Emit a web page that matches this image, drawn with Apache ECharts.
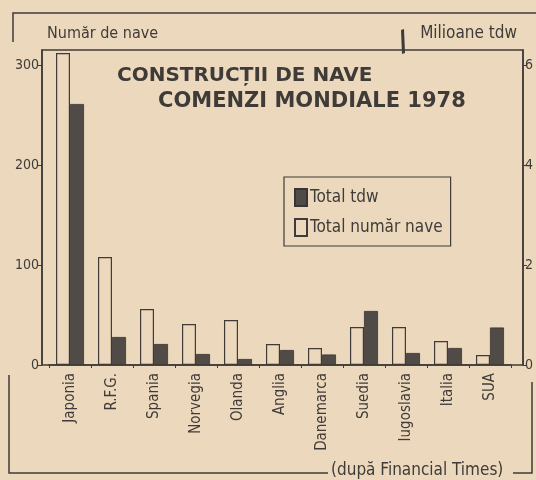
<!DOCTYPE html>
<html>
<head>
<meta charset="utf-8">
<script src="https://cdn.jsdelivr.net/npm/echarts@6/dist/echarts.min.js"></script>
<style>
  html, body { margin: 0; padding: 0; background: #ecd9bd; }
  #chart { width: 536px; height: 480px; }
</style>
</head>
<body>
<div id="chart"></div>
<script>
// tari (categorii)
const countries = ['Japonia', 'R.F.G.', 'Spania', 'Norvegia', 'Olanda', 'Anglia',
  'Danemarca', 'Suedia', 'Iugoslavia', 'Italia', 'SUA'];
// numar de nave comandate
const shipCount = [312, 108, 56, 41, 45, 21, 17, 38, 38, 24, 10];
// milioane tdw
const tdwMillions = [5.22, 0.56, 0.42, 0.22, 0.12, 0.30, 0.21, 1.08, 0.24, 0.34, 0.75];
const leftTicks = [0, 100, 200, 300];
const rightTicks = [0, 2, 4, 6];

const ink = '#3f3b38';
const paper = '#ecd9bd';
const narrow = '"Liberation Sans Narrow", "DejaVu Sans Condensed", "Roboto", sans-serif';

const chart = echarts.init(document.getElementById('chart'));

chart.setOption({
  backgroundColor: paper,
  animation: false,
  textStyle: { fontFamily: narrow, color: ink },
  title: [
    {
      text: 'CONSTRUCȚII DE NAVE',
      left: 117, top: 66, padding: 0,
      textStyle: { fontFamily: 'DejaVu Sans, sans-serif', fontWeight: 'bold', fontSize: 20, color: ink }
    },
    {
      text: 'COMENZI MONDIALE 1978',
      left: 158, top: 91, padding: 0,
      textStyle: { fontFamily: 'DejaVu Sans, sans-serif', fontWeight: 'bold', fontSize: 21, color: ink }
    }
  ],
  legend: {
    data: ['Total tdw', 'Total număr nave'],
    orient: 'vertical',
    left: 284, top: 177,
    padding: [11, 8, 9, 10],
    itemGap: 11,
    itemWidth: 12,
    itemHeight: 17,
    borderColor: ink,
    borderWidth: 1.2,
    icon: 'rect',
    textStyle: { fontFamily: narrow, fontSize: 17, color: ink, padding: [0, 0, 0, -2] }
  },
  grid: { left: 49, right: 25, top: 50, bottom: 115 },
  xAxis: {
    type: 'category',
    data: countries,
    axisLine: { lineStyle: { color: ink, width: 1.5 } },
    axisTick: { show: true, interval: 0, length: 3, lineStyle: { color: ink } },
    axisLabel: {
      interval: 0, rotate: 90, margin: 8,
      fontFamily: narrow, fontSize: 15, color: ink
    }
  },
  yAxis: [
    {
      type: 'value',
      name: 'Număr de nave',
      nameLocation: 'end',
      nameGap: 8,
      nameTextStyle: { fontFamily: narrow, fontSize: 16, color: ink, align: 'left', padding: [0, 0, 0, 5] },
      min: 0, max: 315, interval: 100,
      offset: 7,
      splitLine: { show: false },
      axisLine: { show: true, lineStyle: { color: ink, width: 1.5 } },
      axisTick: { show: true, length: 5, lineStyle: { color: ink } },
      axisLabel: {
        margin: 3, fontSize: 14, color: ink, showMaxLabel: false,
        formatter: v => leftTicks.includes(v) ? String(v) : ''
      }
    },
    {
      type: 'value',
      name: 'Milioane tdw',
      nameLocation: 'end',
      nameGap: 8,
      nameTextStyle: { fontFamily: narrow, fontSize: 17, color: ink, align: 'right', padding: [0, 6, 0, 0] },
      min: 0, max: 6.3, interval: 2,
      offset: 12,
      position: 'right',
      splitLine: { show: false },
      axisLine: { show: true, lineStyle: { color: ink, width: 1.5 } },
      axisTick: { show: true, length: 4, lineStyle: { color: ink } },
      axisLabel: {
        margin: 2, fontSize: 14, color: ink, showMaxLabel: false,
        formatter: v => rightTicks.includes(v) ? String(v) : ''
      }
    }
  ],
  series: [
    {
      name: 'Total număr nave',
      type: 'bar',
      yAxisIndex: 0,
      data: shipCount,
      barWidth: 14,
      barGap: '0%',
      itemStyle: { color: paper, borderColor: ink, borderWidth: 1.2 }
    },
    {
      name: 'Total tdw',
      type: 'bar',
      yAxisIndex: 1,
      data: tdwMillions,
      barWidth: 14,
      barGap: '0%',
      itemStyle: { color: '#514b47', borderColor: '#3a3532', borderWidth: 0.8 }
    }
  ],
  graphic: [
    // cadrul graficului
    { type: 'rect', z: 100, shape: { x: 42, y: 50, width: 481, height: 315 },
      style: { fill: null, stroke: ink, lineWidth: 1.5 } },
    // chenar sus
    { type: 'polyline', z: 100, shape: { points: [[13, 42], [13, 13], [536, 13]] },
      style: { fill: null, stroke: ink, lineWidth: 1.5 } },
    // semn langa "Milioane tdw"
    { type: 'polygon', z: 100, shape: { points: [[401, 30], [404, 29], [405, 53], [402, 54]] },
      style: { fill: ink } },
    // chenar jos
    { type: 'polyline', z: 100, shape: { points: [[9, 375], [9, 473], [328, 473]] },
      style: { fill: null, stroke: ink, lineWidth: 1.5 } },
    { type: 'polyline', z: 100, shape: { points: [[513, 473], [532, 473], [532, 382]] },
      style: { fill: null, stroke: ink, lineWidth: 1.5 } },
    { type: 'text', z: 100, left: 331, top: 462,
      style: { text: '(după Financial Times)', fontFamily: narrow, fontSize: 17, fill: ink } }
  ]
});
</script>
</body>
</html>
